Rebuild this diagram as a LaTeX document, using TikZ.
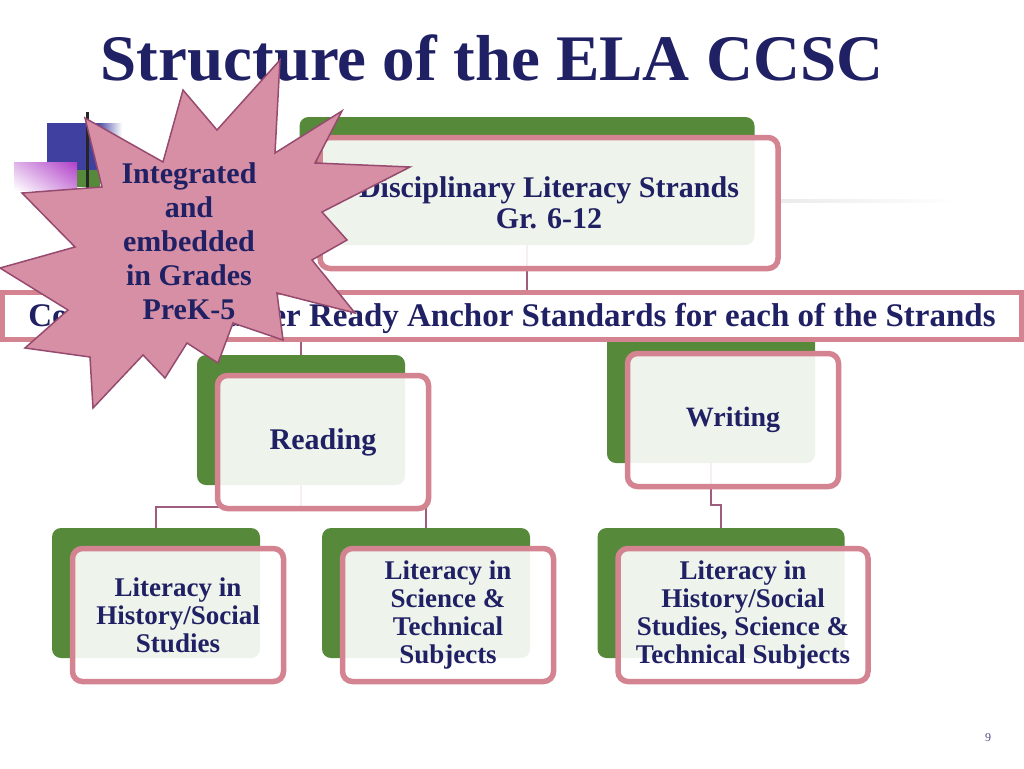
\documentclass[tikz,border=0pt]{standalone}
\usepackage{fontspec}
\setmainfont{Liberation Serif}
\usetikzlibrary{positioning,shadings}
\definecolor{navy}{RGB}{32,32,100}
\definecolor{leaf}{RGB}{86,138,58}
\definecolor{rose}{RGB}{212,131,145}
\definecolor{mauve}{RGB}{160,92,124}
\definecolor{burst}{RGB}{214,143,164}
\definecolor{burstline}{RGB}{150,74,110}
\definecolor{pixblue}{RGB}{64,64,160}
\definecolor{pixpurple}{RGB}{176,64,200}
\begin{document}
\begin{tikzpicture}[x=1pt,y=-1pt,
    back/.style={fill=leaf,rounded corners=9pt,inner sep=0pt},
    front/.style={draw=rose,line width=5.5pt,fill=white,fill opacity=.9,text opacity=1,
      rounded corners=10pt,align=center,text=navy,inner sep=2pt},
    link/.style={draw=mauve,line width=2pt}]
  \useasboundingbox (0,0) rectangle (1024,768);
  \fill[pixblue] (47,123) rectangle (97,170);
  \shade[left color=pixblue,right color=white] (97,123) rectangle (122,170);
  \shade[upper right=pixpurple,lower left=white,upper left=white!60!pixpurple,lower right=white!40!pixpurple] (14,162) rectangle (77,190);
  \fill[leaf] (77,170) rectangle (100,187);
  \draw[black!85,line width=3pt] (87,112) -- (87,188);
  \shade[left color=black!8,right color=white] (780,199) rectangle (960,202);
  \node[text=navy,font=\bfseries\fontsize{65}{70}\selectfont] (title) at (492,58) {Structure of the ELA CCSC};
  \def\boxlist{top/527/181/455/128/30/{Disciplinary Literacy Strands\\Gr. 6-12},
    read/301/420/208/130/30/Reading, writ/711/398/208/130/28/Writing,
    hist/156/593/208/130/27/{Literacy in\\History/Social\\Studies},
    sci/426/593/208/130/27/{Literacy in\\Science \&\\Technical\\Subjects},
    both/721/593/247/130/27/{Literacy in\\History/Social\\Studies, Science \&\\Technical Subjects}}
  \foreach \n/\x/\y/\w/\h/\s/\t in \boxlist
    \node[back,minimum width=\w pt,minimum height=\h pt] (g-\n) at (\x,\y) {};
  \node[draw=rose,line width=5pt,fill=white,minimum width=1019pt,minimum height=47pt] (banner) at (512,316) {};
  \node[text=navy,font=\bfseries\fontsize{33}{35}\selectfont] (strands) at (512,319)
    {College and Career Ready Anchor Standards for each of the Strands};
  \draw[link] (g-top.south) -- (g-top.south |- banner.north);
  \draw[link] (banner.south -| g-read.north) -- (g-read.north);
  \draw[link] (g-read.south) -- ++(0,22) -| (g-hist.north);
  \draw[link] (g-read.south) -- ++(0,22) -| (g-sci.north);
  \draw[link] (g-writ.south) -- ++(0,42) -| (g-both.north);
  \foreach \n/\x/\y/\w/\h/\s/\t [evaluate={\ls=int(\s+1);}] in \boxlist
    \node[front,minimum width=\w pt+3pt,minimum height=\h pt+3pt,
      font=\bfseries\fontsize{\s}{\ls}\selectfont] (p-\n) at (\x+22,\y+22) {\t};
  \draw[fill=burst,draw=burstline,line width=1.5pt] (280,60) -- (275,153) -- (342,111) -- (315,163)
    -- (410,167) -- (322,212) -- (347,240) -- (312,260) -- (355,313) -- (277,293)
    -- (283,340) -- (233,323) -- (218,363) -- (187,343) -- (165,378) -- (143,355)
    -- (93,408) -- (90,357) -- (25,348) -- (68,310) -- (0,268) -- (75,247)
    -- (22,193) -- (102,187) -- (85,118) -- (163,162) -- (183,90) -- (217,130) -- cycle;
  \node[align=center,text=navy,font=\bfseries\fontsize{30}{34}\selectfont] (star) at (189,241)
    {Integrated\\and\\embedded\\in Grades\\PreK-5};
  \node[text=navy!80,font=\fontsize{12}{14}\selectfont] (page) at (988,738) {9};
\end{tikzpicture}
\end{document}
